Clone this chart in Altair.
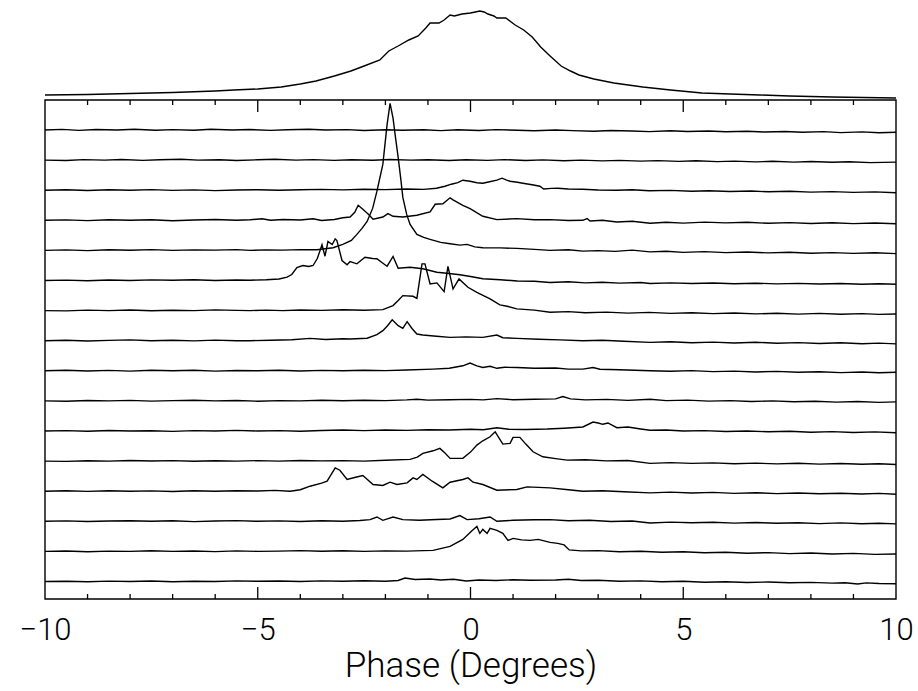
import altair as alt
import pandas as pd

# ---------------- data ----------------
# Each single-pulse trace: [phase (deg), height above its own baseline]
R1 = [[-10,0],[-9.6,0.6],[-9.2,-0.4],[-8.8,0.5],[-8.3,0],[-7.9,0.8],[-7.4,-0.3],[-7.0,0.4],[-6.5,-0.2],[-6.1,0.7],[-5.6,0],[-5.2,0.5],[-4.7,-0.4],[-4.3,0.3],[-3.8,0.8],[-3.4,0],[-2.9,0.4],[-2.5,-0.5],[-2.0,0.2],[-1.6,-0.3],[-1.1,0.3],[-0.7,-0.6],[-0.3,0.2],[0.2,-0.5],[0.6,0.4],[1.1,-0.3],[1.5,-0.8],[2.0,0],[2.4,-0.6],[2.9,-1.2],[3.3,-0.5],[3.8,-1.0],[4.2,-1.6],[4.7,-0.8],[5.1,-1.5],[5.6,-1.0],[6.0,-1.8],[6.5,-1.2],[6.9,-2.0],[7.4,-1.5],[7.8,-2.3],[8.3,-1.6],[8.7,-2.6],[9.2,-1.9],[9.6,-2.8],[10,-2.2]]
R2 = [[-10,0],[-9.5,-0.4],[-9.1,0.5],[-8.6,0],[-8.2,0.6],[-7.7,-0.3],[-7.3,0.3],[-6.8,0.8],[-6.4,0],[-5.9,0.4],[-5.5,-0.4],[-5.0,0.3],[-4.6,0.9],[-4.1,0],[-3.7,0.5],[-3.2,-0.3],[-2.8,0.3],[-2.3,-0.2],[-1.9,0.6],[-1.4,0],[-1.0,0.4],[-0.5,-0.4],[-0.1,0.3],[0.4,-0.3],[0.8,0.5],[1.3,-0.4],[1.7,0.2],[2.2,-0.6],[2.6,0],[3.1,-0.8],[3.5,-0.3],[4.0,-1.0],[4.4,-0.5],[4.9,-1.3],[5.3,-0.6],[5.8,-1.5],[6.2,-1.0],[6.7,-1.8],[7.1,-1.2],[7.6,-2.0],[8.0,-1.4],[8.5,-2.2],[8.9,-1.6],[9.4,-2.5],[10,-2.0]]
R3 = [[-10,0],[-9.5,0.5],[-9.0,-0.3],[-8.5,0.4],[-8.0,0],[-7.5,0.6],[-7.0,-0.2],[-6.5,0.3],[-6.0,-0.4],[-5.5,0.2],[-5.0,0.5],[-4.5,0],[-4.0,0.4],[-3.5,0.8],[-3.0,0.3],[-2.5,1.0],[-2.0,0.6],[-1.5,1.2],[-1.1,0.8],[-0.8,2.0],[-0.6,4.0],[-0.45,6.0],[-0.3,7.5],[-0.18,10],[-0.01,9],[0.15,7.5],[0.29,7],[0.45,8.5],[0.62,10],[0.74,12],[0.85,10],[0.93,9],[1.1,8],[1.23,7],[1.45,5.5],[1.63,4],[1.72,1.2],[1.9,1.8],[2.05,2],[2.3,1.2],[2.64,1],[3.0,0.2],[3.44,0],[3.8,0.4],[4.2,-0.5],[4.7,-0.2],[5.2,-1.0],[5.6,-0.6],[6.1,-1.3],[6.6,-0.8],[7.0,-1.6],[7.5,-1.1],[8.0,-1.9],[8.5,-1.4],[9.0,-2.2],[9.5,-1.7],[10,-2.5]]
R4 = [[-10,0],[-9.5,0.4],[-9.0,-0.3],[-8.5,0.5],[-8.0,0],[-7.5,0.6],[-7.0,-0.4],[-6.5,0.3],[-6.0,0.8],[-5.5,0],[-5.18,0.5],[-4.9,1.5],[-4.7,0],[-4.4,0.8],[-4.0,0.3],[-3.7,1.5],[-3.5,-0.2],[-3.2,0.8],[-3.0,2.5],[-2.83,3.3],[-2.72,8],[-2.64,15],[-2.53,11],[-2.4,6],[-2.29,1],[-2.06,3.3],[-1.94,6.7],[-1.82,4],[-1.59,3.3],[-1.26,5],[-0.95,8.3],[-0.83,16],[-0.65,16.5],[-0.48,22.5],[-0.41,20.5],[-0.18,15],[-0.01,11.7],[0.29,4],[0.62,0.7],[1.09,1.7],[1.5,0.5],[1.87,0.7],[2.3,-0.2],[2.64,0],[2.74,1.8],[2.81,-0.7],[3.1,0],[3.44,-1.7],[3.8,-1.0],[4.22,-3.0],[4.6,-2.0],[5.0,-2.8],[5.5,-1.8],[6.0,-2.6],[6.5,-2.0],[7.0,-3.0],[7.5,-2.3],[8.0,-3.2],[8.5,-2.5],[9.0,-3.3],[9.5,-2.7],[10,-3.4]]
R5 = [[-10,0],[-9.5,0.5],[-9.0,-0.2],[-8.5,0.6],[-8.0,0.2],[-7.5,0.8],[-7.0,0],[-6.5,0.5],[-6.0,0.3],[-5.5,0.8],[-5.18,0],[-4.8,0.5],[-4.41,0.3],[-4.0,0.8],[-3.61,0.7],[-3.23,2.7],[-3.0,6],[-2.8,10],[-2.67,16],[-2.55,22],[-2.43,29],[-2.3,42],[-2.2,59],[-2.06,86],[-1.96,126],[-1.89,147],[-1.82,132],[-1.76,112],[-1.70,93],[-1.64,72],[-1.59,53],[-1.5,36],[-1.42,26],[-1.26,16],[-1.1,13],[-0.95,11],[-0.7,8],[-0.48,6.7],[-0.25,5.3],[-0.08,6],[0.1,3.5],[0.29,2.7],[0.7,2.5],[1.09,2],[1.5,1],[1.87,0],[2.3,0.6],[2.64,-0.7],[3.0,-0.2],[3.4,-1.0],[3.8,0.3],[4.22,-1.5],[4.6,-0.8],[5.0,-2.0],[5.5,-1.2],[6.0,-2.2],[6.5,-1.6],[7.0,-2.5],[7.5,-1.8],[8.0,-2.8],[8.5,-2.2],[9.0,-3.0],[9.5,-2.4],[10,-3.2]]
R6 = [[-10,0],[-9.5,0.4],[-9.0,-0.3],[-8.5,0.5],[-8.0,0],[-7.5,0.6],[-7.0,0.2],[-6.5,0.8],[-6.0,0],[-5.5,0.5],[-5.18,0.3],[-4.8,0.8],[-4.5,1.5],[-4.31,3.3],[-4.2,6],[-4.08,13],[-3.94,15],[-3.8,14],[-3.70,15],[-3.6,22],[-3.49,35.7],[-3.42,24.3],[-3.35,39],[-3.25,36],[-3.18,41.7],[-3.14,40],[-3.02,20],[-2.90,15.7],[-2.83,19],[-2.67,16.7],[-2.48,23.3],[-2.3,22],[-2.20,21.7],[-2.05,17],[-1.96,14.3],[-1.82,24],[-1.70,12.3],[-1.42,13.3],[-1.12,11.7],[-0.79,8.3],[-0.5,7],[-0.25,5.7],[0.0,4],[0.29,1.7],[0.7,0.8],[1.1,-0.5],[1.5,-0.8],[1.87,-2.0],[2.3,-1.3],[2.7,-2.4],[3.1,-1.8],[3.5,-2.6],[4.0,-2.0],[4.22,-3.0],[4.7,-2.4],[5.2,-3.0],[5.7,-2.5],[6.2,-3.2],[6.7,-2.7],[7.2,-3.4],[7.7,-2.9],[8.2,-3.5],[8.7,-3.0],[9.2,-3.7],[9.6,-3.2],[10,-3.8]]
R7 = [[-10,0],[-9.5,-0.3],[-9.0,0.5],[-8.5,0],[-8.0,0.6],[-7.5,-0.2],[-7.0,0.4],[-6.5,0],[-6.0,0.7],[-5.5,0.2],[-5.18,0],[-4.8,0.5],[-4.41,0],[-4.0,0.6],[-3.5,0.2],[-3.0,0.8],[-2.5,0.3],[-2.06,1],[-1.82,5],[-1.7,10],[-1.59,15],[-1.35,14.3],[-1.26,12.3],[-1.14,46.7],[-1.07,46.7],[-0.95,26.7],[-0.79,27.7],[-0.62,19],[-0.53,44.3],[-0.41,21.7],[-0.27,31.7],[-0.06,23.3],[0.15,18.3],[0.46,11.7],[0.69,5.7],[0.86,4.3],[1.09,1.7],[1.5,0.5],[1.87,-1.7],[2.3,-1.0],[2.7,-2.2],[3.2,-1.5],[3.7,-2.5],[4.2,-1.8],[4.7,-2.8],[5.2,-2.2],[5.7,-3.0],[6.2,-2.4],[6.7,-3.3],[7.2,-2.6],[7.7,-3.5],[8.2,-2.8],[8.7,-3.6],[9.2,-3.0],[9.6,-3.8],[10,-3.4]]
R8 = [[-10,0],[-9.5,0.4],[-9.0,-0.3],[-8.5,0.3],[-8.0,0.8],[-7.5,0],[-7.0,0.5],[-6.5,-0.2],[-6.0,0.6],[-5.5,0],[-5.18,0],[-4.7,0.5],[-4.2,1.0],[-3.77,2.3],[-3.4,1.2],[-3.0,2.0],[-2.83,1.7],[-2.43,2.5],[-2.20,6],[-2.06,10],[-1.95,15],[-1.84,21],[-1.70,15],[-1.59,12.3],[-1.49,19],[-1.37,12],[-1.26,6.7],[-1.12,5.7],[-0.8,4.5],[-0.48,3.3],[-0.1,3.8],[0.29,3.3],[0.62,5.7],[0.76,3],[1.09,2.3],[1.6,1.5],[2.1,0.8],[2.64,0],[3.1,0.5],[3.6,-0.5],[4.22,-1.7],[4.7,-1.0],[5.2,-2.0],[5.7,-1.4],[6.2,-2.3],[6.7,-1.6],[7.2,-2.5],[7.7,-1.9],[8.2,-2.8],[8.7,-2.1],[9.2,-3.0],[9.6,-2.4],[10,-3.2]]
R9 = [[-10,0],[-9.5,0.5],[-9.0,-0.2],[-8.5,0.4],[-8.0,-0.3],[-7.5,0.6],[-7.0,0],[-6.5,0.5],[-6.0,-0.3],[-5.5,0.3],[-5.0,0],[-4.5,0.6],[-4.0,-0.2],[-3.5,0.4],[-3.0,0],[-2.5,0.5],[-2.0,0.2],[-1.5,0.8],[-0.88,1.7],[-0.5,2.5],[-0.18,5],[-0.01,7.7],[0.15,5],[0.29,3.3],[0.46,4.5],[0.62,2.5],[0.8,3.5],[1.09,3.3],[1.5,2.5],[2.0,2.8],[2.3,1.7],[2.64,1.7],[2.88,3.3],[3.04,1.5],[3.5,1.0],[4.22,0],[4.7,-0.5],[5.2,0.2],[5.7,-0.8],[6.2,-0.3],[6.7,-1.2],[7.2,-0.6],[7.7,-1.5],[8.2,-0.9],[8.7,-1.8],[9.2,-1.2],[9.6,-2.0],[10,-1.5]]
R10 = [[-10,0],[-9.5,-0.3],[-9.0,0.4],[-8.5,0],[-8.0,0.5],[-7.5,-0.2],[-7.0,0.3],[-6.5,0.7],[-6.0,0],[-5.5,0.4],[-5.0,-0.3],[-4.5,0.3],[-4.0,0],[-3.5,0.6],[-3.0,0.2],[-2.5,0.7],[-2.0,0.3],[-1.5,1.0],[-1.26,1.7],[-1.0,0.8],[-0.5,1.2],[0.0,1.5],[0.3,1.0],[0.62,2.3],[1.0,1.2],[1.5,1.6],[2.0,2.0],[2.17,4.3],[2.35,2.0],[2.7,1.0],[3.2,1.5],[3.7,0.5],[4.22,1.7],[4.6,0.3],[5.1,0.8],[5.6,-0.2],[6.1,0.3],[6.6,-0.6],[7.1,0],[7.6,-0.9],[8.1,-0.3],[8.6,-1.2],[9.1,-0.6],[9.6,-1.5],[10,-1.0]]
R11 = [[-10,0],[-9.5,0.4],[-9.0,-0.3],[-8.5,0.5],[-8.0,0],[-7.5,0.3],[-7.0,-0.4],[-6.5,0.4],[-6.0,0],[-5.5,0.6],[-5.0,0],[-4.5,0.4],[-4.0,-0.2],[-3.5,0.5],[-3.0,1.0],[-2.5,0.4],[-2.0,1.0],[-1.5,0.6],[-1.0,1.3],[-0.5,1.0],[0.0,1.8],[0.3,1.2],[0.62,3.3],[0.9,1.8],[1.3,1.5],[1.8,2.0],[2.2,2.8],[2.64,4],[2.88,9],[3.0,8],[3.11,6.7],[3.23,8],[3.44,3.3],[3.7,4.0],[4.0,2.0],[4.22,0.7],[4.6,1.0],[5.0,0],[5.5,0.4],[6.0,-0.5],[6.5,0],[7.0,-0.8],[7.5,-0.3],[8.0,-1.2],[8.5,-0.6],[9.0,-1.5],[9.5,-0.9],[10,-1.8]]
R12 = [[-10,0],[-9.5,-0.3],[-9.0,0.4],[-8.5,0],[-8.0,0.6],[-7.5,0.1],[-7.0,0.5],[-6.5,-0.2],[-6.0,0.4],[-5.5,0],[-5.0,0.5],[-4.5,0],[-4.0,0.6],[-3.5,0.2],[-3.0,0.5],[-2.5,0],[-2.0,0.8],[-1.42,1.7],[-1.25,4],[-1.12,7.7],[-0.88,10.3],[-0.72,12.7],[-0.6,8],[-0.48,2.7],[-0.18,2.7],[0.0,9],[0.15,16],[0.29,20.3],[0.46,24.3],[0.58,29.3],[0.76,17],[0.93,17.7],[1.00,23.7],[1.16,23.7],[1.3,17],[1.47,9.3],[1.70,4.3],[2.0,2.5],[2.27,1],[2.7,1.3],[3.2,0.2],[3.7,0.6],[4.22,-2.3],[4.7,-1.5],[5.2,-2.3],[5.7,-1.8],[6.2,-2.6],[6.7,-2.0],[7.2,-2.8],[7.7,-2.2],[8.2,-3.0],[8.7,-2.4],[9.2,-3.2],[9.6,-2.7],[10,-3.4]]
R13 = [[-10,0],[-9.5,0.4],[-9.0,-0.2],[-8.5,0.5],[-8.0,0],[-7.5,0.3],[-7.0,-0.3],[-6.5,0.4],[-6.0,0],[-5.5,0.5],[-5.0,0.2],[-4.6,0.8],[-4.24,0],[-4.0,1.5],[-3.77,5],[-3.5,8],[-3.37,10],[-3.18,23.3],[-3.07,21],[-2.90,11.7],[-2.7,14],[-2.53,15.7],[-2.29,6.7],[-2.06,5.7],[-1.89,9],[-1.73,6.7],[-1.49,8.3],[-1.35,13.3],[-1.26,11.7],[-1.12,16.7],[-0.90,10],[-0.65,3.3],[-0.48,9],[-0.18,11.7],[-0.06,13.3],[0.06,9],[0.29,6.7],[0.62,1],[1.09,1.7],[1.33,4.3],[1.87,3.3],[2.3,1.5],[2.64,0],[3.1,0.5],[3.6,-0.5],[4.22,-1.7],[4.7,-0.9],[5.2,-1.8],[5.7,-1.2],[6.2,-2.2],[6.7,-1.5],[7.2,-2.4],[7.7,-1.8],[8.2,-2.6],[8.7,-2.0],[9.2,-2.8],[9.6,-2.2],[10,-3.0]]
R14 = [[-10,0],[-9.5,0.4],[-9.0,-0.2],[-8.5,0.3],[-8.0,0.6],[-7.5,0],[-7.0,0.5],[-6.5,-0.3],[-6.0,0.3],[-5.5,0.7],[-5.0,0],[-4.5,0.4],[-4.0,-0.2],[-3.5,0.5],[-3.0,0.1],[-2.6,0.8],[-2.36,1.7],[-2.20,4.3],[-2.06,1],[-1.82,4.3],[-1.59,1.7],[-1.2,1.0],[-0.8,1.8],[-0.48,2.3],[-0.25,5.7],[-0.08,1.7],[0.2,2.5],[0.46,4.3],[0.62,0],[1.0,1.0],[1.5,1.5],[1.87,1.7],[2.3,0.5],[2.8,1.0],[3.3,-0.2],[3.8,0.3],[4.22,-1.7],[4.7,-0.8],[5.2,-1.5],[5.7,-1.0],[6.2,-1.8],[6.7,-1.2],[7.2,-2.0],[7.7,-1.4],[8.2,-2.3],[8.7,-1.6],[9.2,-2.5],[9.6,-1.9],[10,-2.6]]
R15 = [[-10,0],[-9.5,0.4],[-9.0,-0.3],[-8.5,0.3],[-8.0,0],[-7.5,0.6],[-7.0,0],[-6.5,0.4],[-6.0,-0.2],[-5.5,0.5],[-5.0,0],[-4.5,0.3],[-4.0,0.8],[-3.5,0.2],[-3.0,0.6],[-2.5,0],[-2.0,0.5],[-1.5,0.3],[-1.1,0.8],[-0.88,1],[-0.48,5],[-0.18,12],[0.04,21],[0.15,25],[0.22,18],[0.29,22],[0.39,18],[0.46,23],[0.62,21],[0.76,18],[0.88,11],[1.00,13],[1.2,11.5],[1.40,11],[1.59,12],[1.87,9],[2.05,8],[2.2,6.5],[2.32,1.5],[2.6,0.5],[3.0,0.8],[3.5,-0.3],[4.0,0.2],[4.5,-0.8],[5.0,-0.4],[5.5,-1.3],[6.0,-0.8],[6.5,-1.8],[7.0,-1.2],[7.5,-2.2],[8.0,-1.6],[8.5,-2.6],[9.0,-2.0],[9.5,-3.0],[10,-2.6]]
R16 = [[-10,0],[-9.5,0.3],[-9.0,-0.3],[-8.5,0.4],[-8.0,0],[-7.5,0.5],[-7.0,-0.2],[-6.5,0.3],[-6.0,0],[-5.5,0.6],[-5.0,0.2],[-4.5,0.5],[-4.0,0],[-3.5,0.6],[-3.0,0.2],[-2.5,0.8],[-2.0,0.3],[-1.7,1.0],[-1.54,3.5],[-1.3,2.0],[-0.95,2.5],[-0.7,1.5],[-0.4,2.2],[-0.1,0.5],[0.2,1.5],[0.6,1.0],[1.0,1.8],[1.4,1.2],[2.0,1.5],[2.3,2.2],[2.6,1.0],[3.0,1.3],[3.5,0.2],[4.0,0.6],[4.5,-0.3],[5.0,0.2],[5.5,-0.7],[6.0,-0.2],[6.5,-1.0],[7.0,-0.5],[7.5,-1.3],[8.0,-0.9],[8.5,-1.6],[8.8,-1.2],[9.1,-2.5],[9.3,-1.4],[9.6,-2.0],[10,-2.2]]

# Integrated (average) profile drawn above the stack
AVG = [[-10,5],[-9,5.5],[-8,6.5],[-7,7.5],[-6,9],[-5.56,10],[-5,11],[-4.45,13],[-4,16],[-3.63,19],[-3.2,24],[-2.81,29],[-2.5,34],[-2.13,40],[-1.92,49],[-1.7,54],[-1.45,60],[-1.23,64],[-1.05,72],[-0.95,77],[-0.74,77],[-0.62,80],[-0.48,85],[-0.38,84],[-0.2,86],[0.0,87],[0.22,89],[0.32,88],[0.41,86],[0.55,84],[0.62,82],[0.83,82],[1.05,75],[1.25,70],[1.45,63],[1.65,53],[1.87,44],[2.13,34],[2.35,29],[2.55,25],[2.9,21],[3.37,17],[4.05,13],[4.7,10],[5.44,7],[6.1,6],[6.8,5],[7.5,4],[8.5,3],[10,2]]

X_LABELS = [-10, -5, 0, 5, 10]
MAJOR_TICKS = [-5, 0, 5]
MINOR_TICKS = [-9, -8, -7, -6, -4, -3, -2, -1, 1, 2, 3, 4, 6, 7, 8, 9]
X_TITLE = "Phase (Degrees)"

# ---------------- layout parameters (plot units = pixels) ----------------
W, H = 851, 594
FRAME_TOP = 499          # height of the boxed stack
ROW0 = 469               # baseline of the first (top) trace
ROW_STEP = 30.1          # vertical offset between traces
MINOR_LEN, MAJOR_LEN = 5, 12
FONT = "Roboto"

rows = [R1, R2, R3, R4, R5, R6, R7, R8, R9, R10, R11, R12, R13, R14, R15, R16]
recs = []
for k, r in enumerate(rows):
    for ph, h in r:
        recs.append({"trace": f"p{k + 1:02d}", "phase": ph, "y": ROW0 - k * ROW_STEP + h})
for ph, h in AVG:
    recs.append({"trace": "avg", "phase": ph, "y": FRAME_TOP + h})
lines_df = pd.DataFrame(recs)

tick_recs = []
for t in MINOR_TICKS:
    tick_recs.append({"phase": t, "y0": 0, "y1": MINOR_LEN})
    tick_recs.append({"phase": t, "y0": FRAME_TOP - MINOR_LEN, "y1": FRAME_TOP})
for t in MAJOR_TICKS:
    tick_recs.append({"phase": t, "y0": 0, "y1": MAJOR_LEN})
    tick_recs.append({"phase": t, "y0": FRAME_TOP - MAJOR_LEN, "y1": FRAME_TOP})
ticks_df = pd.DataFrame(tick_recs)

frame_df = pd.DataFrame({"phase": [-10], "phase_end": [10], "y0": [0], "y1": [FRAME_TOP]})

xscale = alt.Scale(domain=[-10, 10], nice=False, zero=False)
yscale = alt.Scale(domain=[0, H], nice=False, zero=False)
xaxis = alt.Axis(values=X_LABELS, ticks=False, domain=False, grid=False,
                 labelFont=FONT, labelFontSize=31, labelFontWeight=300, labelColor="black",
                 labelPadding=16, labelFlush=False, labelOverlap=False,
                 title=X_TITLE, titleFont=FONT, titleFontSize=35, titleFontWeight=300,
                 titleColor="black", titlePadding=3)

lines = alt.Chart(lines_df).mark_line(color="black", strokeWidth=1.4, clip=False).encode(
    x=alt.X("phase:Q", scale=xscale, axis=xaxis),
    y=alt.Y("y:Q", scale=yscale, axis=None),
    detail="trace:N",
)

frame = alt.Chart(frame_df).mark_rect(fillOpacity=0, stroke="black", strokeWidth=1.4).encode(
    x=alt.X("phase:Q", scale=xscale, axis=xaxis),
    x2="phase_end:Q",
    y=alt.Y("y0:Q", scale=yscale, axis=None),
    y2="y1:Q",
)

ticks = alt.Chart(ticks_df).mark_rule(color="black", strokeWidth=1.3).encode(
    x=alt.X("phase:Q", scale=xscale, axis=xaxis),
    y=alt.Y("y0:Q", scale=yscale, axis=None),
    y2="y1:Q",
)

chart = alt.layer(frame, ticks, lines).properties(
    width=W, height=H,
    padding={"left": 45, "top": 5, "right": 22, "bottom": 92},
    autosize=alt.AutoSizeParams(type="none"),
    background="white",
).configure_view(stroke=None)

chart.save("out.html", embed_options={"renderer": "svg", "actions": False})
